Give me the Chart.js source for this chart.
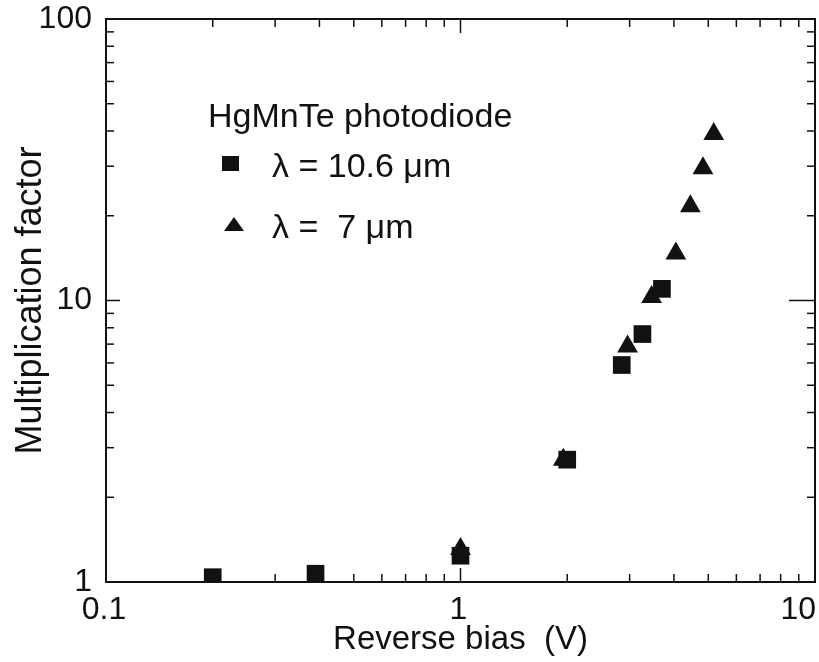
<!DOCTYPE html>
<html>
<head>
<meta charset="utf-8">
<script src="https://cdn.jsdelivr.net/npm/chart.js@4.4.1/dist/chart.umd.min.js"></script>
<style>
html,body{margin:0;padding:0;background:#fff}
</style>
</head>
<body>
<canvas id="c" width="819" height="662"></canvas>
<script>
// values (log-log axes)
const sqBias = [0.2, 0.39, 1.0, 2.0, 2.85, 3.26, 3.7];
const sqGain = [1.04, 1.07, 1.24, 2.72, 5.9, 7.6, 11.0];
const triBias = [1.0, 1.95, 2.96, 3.46, 4.05, 4.45, 4.83, 5.18];
const triGain = [1.31, 2.72, 6.86, 10.3, 14.7, 21.6, 29.5, 39];
const xTickLabels = [0.1, 1, 10];
const yTickLabels = [1, 10, 100];
const legendTitle = 'HgMnTe photodiode';
const seriesNames = ['λ = 10.6 μm', 'λ =  7 μm'];

const INK = '#111';
const FONT = '"Liberation Sans", Arial, sans-serif';

function pts(xs, ys){ return xs.map((v,i)=>({x:v, y:ys[i]})); }

// every 1..9 x 10^n value inside the scale range
function logTicks(scale){
  const out = [];
  const e0 = Math.floor(Math.log10(scale.min)), e1 = Math.ceil(Math.log10(scale.max));
  for(let e=e0;e<=e1;e++){
    for(let m=1;m<=9;m++){
      const v = m*Math.pow(10,e);
      if(v>=scale.min*0.999 && v<=scale.max*1.001) out.push([v, m===1]);
    }
  }
  return out;
}

// box frame with inward ticks on all four sides, x tick labels, legend
const framePlugin = {
  id:'frame',
  beforeDatasetsDraw(chart){
    const {ctx, chartArea:a, scales:{x,y}} = chart;
    ctx.save();
    ctx.strokeStyle = INK;
    ctx.lineWidth = 1.5;
    const line = (x1,y1,x2,y2)=>{ ctx.beginPath(); ctx.moveTo(x1,y1); ctx.lineTo(x2,y2); ctx.stroke(); };
    logTicks(x).forEach(([v,major])=>{
      const px = x.getPixelForValue(v), L = major?14:8;
      line(px,a.bottom,px,a.bottom-L); line(px,a.top,px,a.top+L);
    });
    logTicks(y).forEach(([v,major])=>{
      const py = y.getPixelForValue(v), L = major?14:8;
      line(a.left,py,a.left+L,py); line(a.right,py,a.right-(major?26:8),py);
    });
    ctx.lineWidth = 2;
    ctx.strokeRect(a.left, a.top, a.right-a.left, a.bottom-a.top);
    ctx.restore();
  },
  afterDraw(chart){
    const {ctx, chartArea:a, scales:{x}} = chart;
    ctx.save();
    ctx.fillStyle = INK;
    ctx.font = '32px ' + FONT;
    ctx.textAlign = 'center';
    ctx.textBaseline = 'alphabetic';
    xTickLabels.forEach(v=>{
      const t = String(v), w = ctx.measureText(t).width;
      const px = Math.min(x.getPixelForValue(v), chart.width - w/2 - 1);
      ctx.fillText(t, px - 2, a.bottom + 37);
    });
    // legend inside the plot, upper left
    const L = a.left, T = a.top;
    ctx.textAlign = 'left';
    ctx.font = '34px ' + FONT;
    ctx.fillText(legendTitle, L+102, T+108);
    ctx.fillRect(L+116, T+137, 17, 15);
    ctx.fillText(seriesNames[0], L+166, T+158);
    ctx.beginPath();
    ctx.moveTo(L+128, T+198); ctx.lineTo(L+138, T+212); ctx.lineTo(L+118, T+212); ctx.closePath();
    ctx.fill();
    ctx.fillText(seriesNames[1], L+166, T+219);
    ctx.restore();
  }
};

new Chart(document.getElementById('c'), {
  type:'scatter',
  data:{
    datasets:[
      { label:seriesNames[0], data:pts(sqBias, sqGain), pointStyle:'rect', pointRadius:12.5, pointHoverRadius:12.5,
        backgroundColor:INK, borderColor:INK, borderWidth:0 },
      { label:seriesNames[1], data:pts(triBias, triGain), pointStyle:'triangle', pointRadius:12, pointHoverRadius:12,
        backgroundColor:INK, borderColor:INK, borderWidth:0 }
    ]
  },
  options:{
    responsive:false,
    animation:false,
    layout:{ autoPadding:false, padding:{ left:0, right:4, top:19, bottom:0 } },
    plugins:{ legend:{display:false}, tooltip:{enabled:false} },
    scales:{
      x:{
        type:'logarithmic', min:0.1, max:10,
        grid:{display:false, drawTicks:false}, border:{display:false},
        ticks:{display:false},
        title:{ display:true, text:'Reverse bias  (V)', color:INK, font:{family:FONT, size:33}, padding:{top:0, bottom:2} },
        afterFit(s){ s.height = 80; s.paddingLeft = 0; s.paddingRight = 0; }
      },
      y:{
        type:'logarithmic', min:1, max:100,
        grid:{display:false, drawTicks:false}, border:{display:false},
        ticks:{ autoSkip:false, padding:14, color:INK, font:{family:FONT, size:32},
          callback:(v)=> yTickLabels.some(t=>Math.abs(t-v)<1e-9) ? String(v) : '' },
        title:{ display:true, text:'Multiplication factor', color:INK, font:{family:FONT, size:36}, padding:{top:9, bottom:0} },
        afterFit(s){ s.width = 106; s.paddingTop = 0; s.paddingBottom = 0; }
      }
    }
  },
  plugins:[framePlugin]
});
</script>
</body>
</html>
